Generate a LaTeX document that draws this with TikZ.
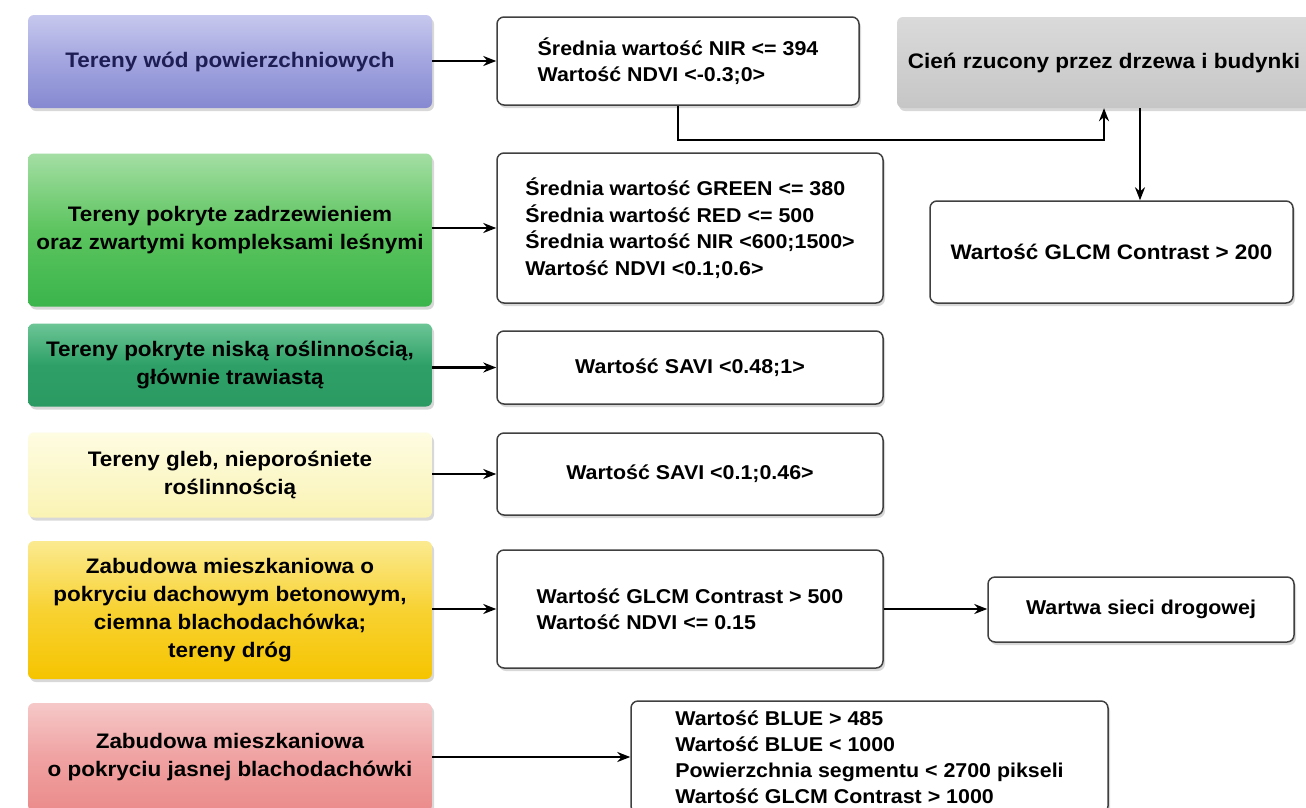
\documentclass[tikz,border=0pt]{standalone}
\usepackage{fontspec}
\setmainfont{Liberation Sans}[FakeStretch=1.07]
\usetikzlibrary{arrows.meta,shadows}
\definecolor{blueT}{HTML}{C7C8EE}
\definecolor{blueM}{HTML}{A2A5DF}
\definecolor{blueB}{HTML}{8689D0}
\definecolor{navy}{HTML}{1E1E55}
\definecolor{grnT}{HTML}{A4DEA4}
\definecolor{grnM}{HTML}{5CC45E}
\definecolor{grnB}{HTML}{3BB54C}
\definecolor{dgrT}{HTML}{6CC596}
\definecolor{dgrM}{HTML}{2EA067}
\definecolor{dgrB}{HTML}{2B9A62}
\definecolor{lyT}{HTML}{FEFCE2}
\definecolor{lyB}{HTML}{FAF3B4}
\definecolor{ylT}{HTML}{FBEA90}
\definecolor{ylM}{HTML}{F8D232}
\definecolor{ylB}{HTML}{F5C400}
\definecolor{pkT}{HTML}{F6C8C8}
\definecolor{pkM}{HTML}{F0A2A2}
\definecolor{pkB}{HTML}{EB8B8B}
\definecolor{gyT}{HTML}{DADADA}
\definecolor{gyB}{HTML}{C6C6C6}
\begin{document}
\begin{tikzpicture}[x=1pt,y=-1pt,
  cat/.style={rectangle, rounded corners=6pt, align=center, inner sep=0pt,
    font=\fontsize{21}{28}\selectfont\bfseries,
    drop shadow={shadow xshift=2pt,shadow yshift=-3pt,opacity=0.3}},
  cond/.style={rectangle, rounded corners=7pt, draw=black!75, line width=1.5pt,
    fill=white, align=left, inner sep=0pt,
    font=\fontsize{20}{26.5}\selectfont\bfseries,
    drop shadow={shadow xshift=2pt,shadow yshift=-3pt,opacity=0.3}},
  arr/.style={line width=2.4pt, -{Stealth[length=13pt,width=10pt]}}
]
\useasboundingbox[fill=white] (0,0) rectangle (1306,807);

% left category boxes
\node[cat, top color=blueT, bottom color=blueB, middle color=blueM, text=navy,
  minimum width=404pt, minimum height=93pt] (L1) at (230,61.5) {Tereny wód powierzchniowych};
\node[cat, top color=grnT, bottom color=grnB, middle color=grnM,
  minimum width=404pt, minimum height=153pt] (L2) at (230,230) {Tereny pokryte zadrzewieniem\\oraz zwartymi kompleksami leśnymi};
\node[cat, top color=dgrT, bottom color=dgrB, middle color=dgrM,
  minimum width=404pt, minimum height=83pt] (L3) at (230,365) {Tereny pokryte niską roślinnością,\\głównie trawiastą};
\node[cat, top color=lyT, bottom color=lyB,
  minimum width=404pt, minimum height=85pt] (L4) at (230,475) {Tereny gleb, nieporośniete\\roślinnością};
\node[cat, top color=ylT, bottom color=ylB, middle color=ylM,
  minimum width=404pt, minimum height=138pt] (L5) at (230,610) {Zabudowa mieszkaniowa o\\pokryciu dachowym betonowym,\\ciemna blachodachówka;\\tereny dróg};
\node[cat, top color=pkT, bottom color=pkB, middle color=pkM,
  minimum width=404pt, minimum height=108pt] (L6) at (230,757) {Zabudowa mieszkaniowa\\o pokryciu jasnej blachodachówki};

% condition boxes
\node[cond, minimum width=362pt, minimum height=88pt] (M1) at (678,61) {Średnia wartość NIR <= 394\\Wartość NDVI <-0.3;0>};
\node[cond, minimum width=386pt, minimum height=150pt] (M2) at (690,228) {Średnia wartość GREEN <= 380\\Średnia wartość RED <= 500\\Średnia wartość NIR <600;1500>\\Wartość NDVI <0.1;0.6>};
\node[cond, minimum width=386pt, minimum height=73pt] (M3) at (690,367.5) {Wartość SAVI <0.48;1>};
\node[cond, minimum width=386pt, minimum height=82pt] (M4) at (690,474) {Wartość SAVI <0.1;0.46>};
\node[cond, minimum width=386pt, minimum height=118pt] (M5) at (690,609) {Wartość GLCM Contrast > 500\\Wartość NDVI <= 0.15};
\node[cond, font=\fontsize{20}{26}\selectfont\bfseries, minimum width=477pt, minimum height=112pt] (M6) at (869.5,757) {Wartość BLUE > 485\\Wartość BLUE < 1000\\Powierzchnia segmentu < 2700 pikseli\\Wartość GLCM Contrast > 1000};

% right side
\node[cat, top color=gyT, bottom color=gyB, font=\fontsize{21}{28}\selectfont\bfseries,
  minimum width=414pt, minimum height=91pt] (G) at (1104,62.5) {Cień rzucony przez drzewa i budynki};
\node[cond, align=center, font=\fontsize{21}{28}\selectfont\bfseries,
  minimum width=363pt, minimum height=102pt] (R) at (1111.5,252) {Wartość GLCM Contrast > 200};
\node[cond, align=center, minimum width=306pt, minimum height=65pt] (W) at (1141,609.5) {Wartwa sieci drogowej};

% connectors
\draw[arr] (L1.east |- M1.west) -- (M1.west);
\draw[arr] (L2.east |- M2.west) -- (M2.west);
\draw[arr] (L3.east |- M3.west) -- (M3.west);
\draw[arr] (L4.east |- M4.west) -- (M4.west);
\draw[arr] (L5.east |- M5.west) -- (M5.west);
\draw[arr] (L6.east) -- (L6.east -| M6.west);
\draw[arr] (M5.east) -- (M5.east -| W.west);
\coordinate (bend) at (1104,140);
\draw[arr] (M1.south) |- (bend) -- (G.south);
\coordinate (gout) at (1140,108);
\draw[arr] (gout) -- (gout |- R.north);
\end{tikzpicture}
\end{document}
